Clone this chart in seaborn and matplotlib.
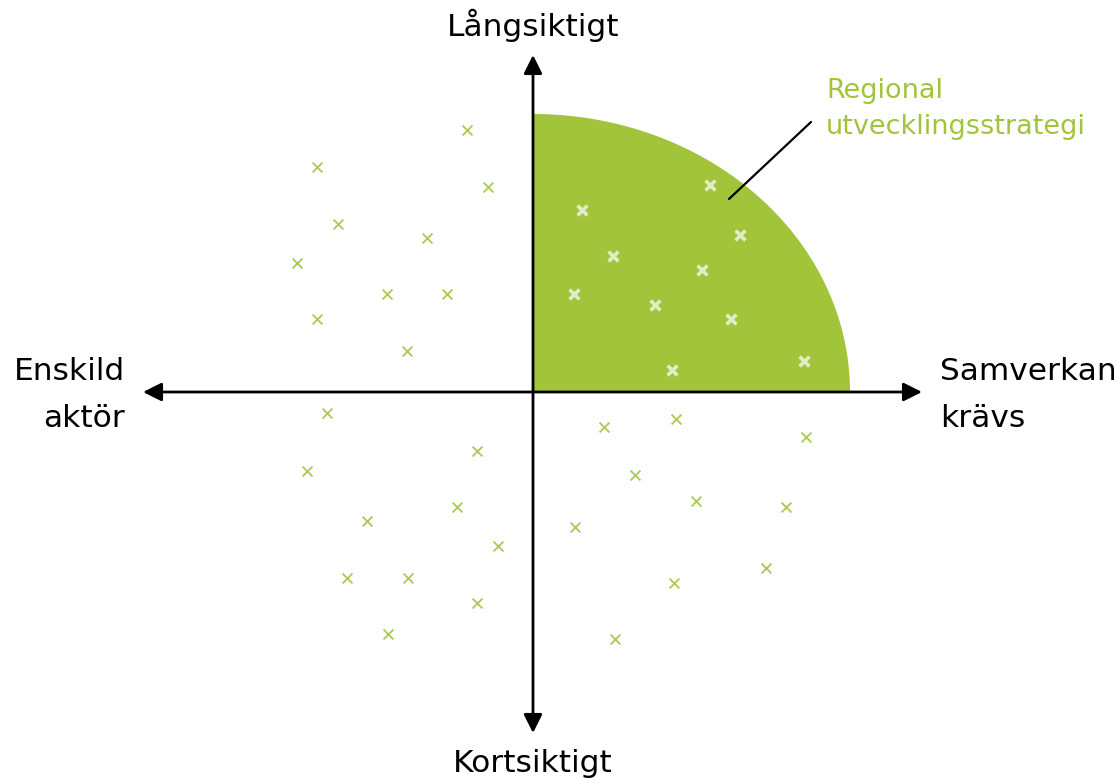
import numpy as np
import pandas as pd
import matplotlib
matplotlib.use("Agg")
import matplotlib.pyplot as plt
import seaborn as sns

# ── Data: marker positions (x = samverkan, y = långsiktighet) ──
outside_x = [-66, -216, -45, -195, -106, -236, -146, -86, -216, -126,
             -206, -56, -226, -166, -76, -35, -186, -125, -56, -145,
             71, 143, 273, 102, 163, 253, 42, 233, 141, 82]
outside_y = [262, 225, 205, 168, 154, 129, 98, 98, 73, 41,
             -21, -59, -79, -129, -115, -154, -186, -186, -211, -242,
             -35, -27, -45, -83, -109, -115, -135, -176, -191, -247]

inside_x = [177, 49, 207, 80, 169, 41, 122, 198, 139, 271]
inside_y = [207, 182, 157, 136, 122, 98, 87, 73, 22, 31]

# quarter ellipse extent (strategy area)
area_w = 317
area_h = 278

GREEN = "#a2c43b"
LIGHT = "#e2ecc6"

sns.set_style("white")
plt.rcParams['font.family'] = ['DejaVu Sans']
plt.rcParams['text.color'] = 'black'

fig = plt.figure(figsize=(11.19, 7.83), dpi=100)
ax = fig.add_axes([0, 0, 1, 1])
ax.set_xlim(-533, 1119 - 533)
ax.set_ylim(392 - 783, 392)
ax.axis('off')

# green quarter area
theta = np.linspace(0, np.pi / 2, 200)
ax.fill(np.r_[0, area_w * np.cos(theta), 0], np.r_[0, area_h * np.sin(theta), 0],
        color=GREEN, lw=0, zorder=1)

# scattered markers
df_out = pd.DataFrame({'x': outside_x, 'y': outside_y})
df_in = pd.DataFrame({'x': inside_x, 'y': inside_y})
sns.scatterplot(data=df_out, x='x', y='y', marker='x', s=50, color="#a9cb52",
                linewidth=1.3, ax=ax, zorder=3)
sns.scatterplot(data=df_in, x='x', y='y', marker='x', s=50, color=LIGHT,
                linewidth=2.6, ax=ax, zorder=3)
ax.set_xlabel('')
ax.set_ylabel('')

# axes arrows
arrow = dict(arrowstyle='<|-|>', lw=2, color='black', mutation_scale=28,
             shrinkA=0, shrinkB=0)
ax.annotate('', xy=(389, 0), xytext=(-390, 0), arrowprops=arrow, zorder=4)
ax.annotate('', xy=(0, 337), xytext=(0, -341), arrowprops=arrow, zorder=4)

# leader line to label
ax.plot([196, 278], [193, 270], color='black', lw=1.6, zorder=4)

# labels
ax.text(0, 367, 'Långsiktigt', ha='center', va='center', fontsize=22.5)
ax.text(0, -371, 'Kortsiktigt', ha='center', va='center', fontsize=22.5)
ax.text(407, -3, 'Samverkan\nkrävs', ha='left', va='center', fontsize=22.5,
        linespacing=1.75)
ax.text(-408, -3, 'Enskild\naktör', ha='right', va='center', fontsize=22.5,
        linespacing=1.75, multialignment='right')
ax.text(293, 283, 'Regional\nutvecklingsstrategi', ha='left', va='center',
        fontsize=19.5, color=GREEN, linespacing=1.45)

plt.savefig('out.png', dpi=100)
